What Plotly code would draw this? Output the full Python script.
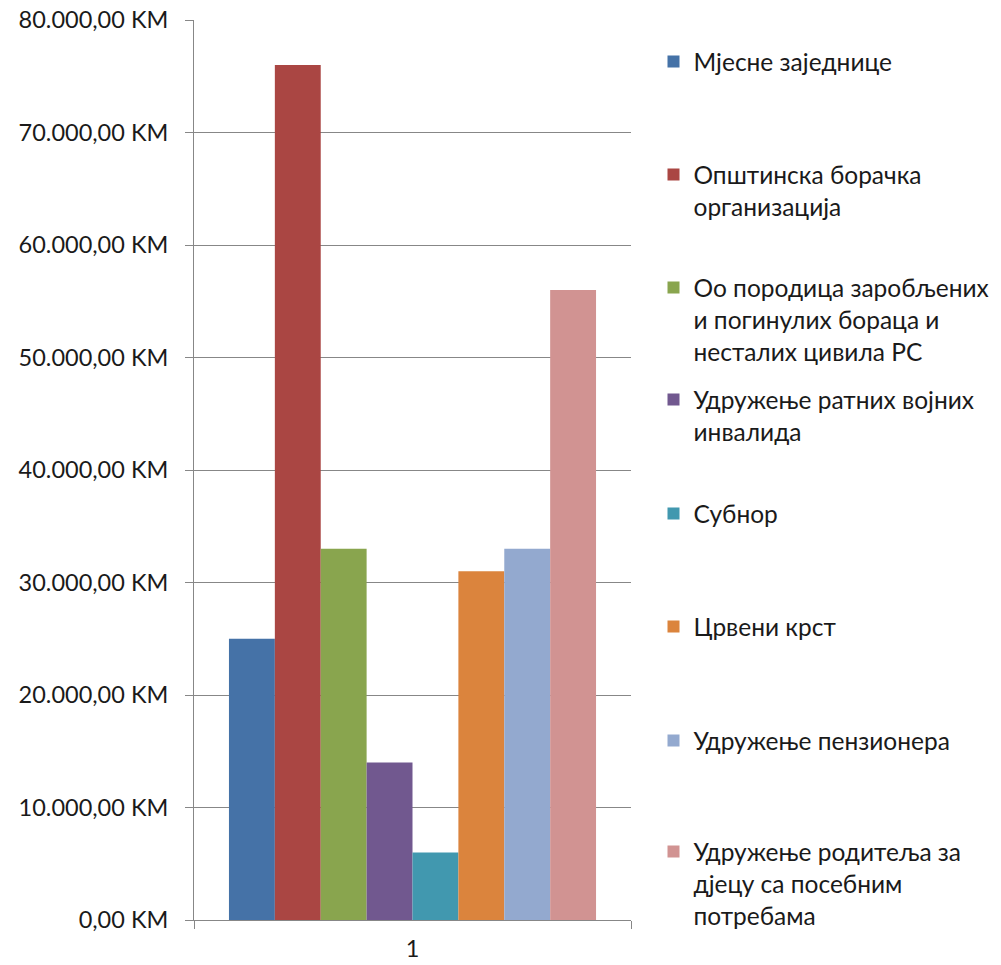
import plotly.graph_objects as go

categories = ["1"]
series_names = [
    "Мјесне заједнице",
    "Општинска борачка<br>организација",
    "Оо породица заробљених<br>и погинулих бораца и<br>несталих цивила РС",
    "Удружење ратних војних<br>инвалида",
    "Субнор",
    "Црвени крст",
    "Удружење пензионера",
    "Удружење родитеља за<br>дјецу са посебним<br>потребама",
]
values = [25000, 76000, 33000, 14000, 6000, 31000, 33000, 56000]
colors = ["#4572A7", "#AA4643", "#89A54E", "#71588F",
          "#4198AF", "#DB843D", "#93A9CF", "#D19392"]

FONT = "Lato"
TICK_FS = 23.5
LEG_FS = 24.5
W, H = 1001, 965
L, T = 194, 20
plot_w, plot_h = 437, 900
R = W - L - plot_w
B = H - T - plot_h

# legend entry first-line centres (pixels)
legend_centres = [62, 175, 288, 400, 514, 627, 741, 852]
legend_swatch_x = 673.5

fig = go.Figure()
layout_legends = {}
for i, (name, v, c) in enumerate(zip(series_names, values, colors)):
    key = "legend" if i == 0 else f"legend{i+1}"
    fig.add_trace(go.Bar(
        x=categories, y=[v], name=name,
        marker=dict(color=c, line=dict(width=0)),
        legend=key,
    ))
    top_px = legend_centres[i] - 23
    left_px = legend_swatch_x - 20
    layout_legends[key] = dict(
        x=(left_px - L) / plot_w, xanchor="left",
        y=(H - B - top_px) / plot_h, yanchor="top",
        valign="top",
        font=dict(family=FONT, size=LEG_FS, color="#1a1a1a"),
        bgcolor="rgba(0,0,0,0)",
        borderwidth=0,
    )

fig.update_layout(
    width=W, height=H,
    margin=dict(l=L, r=R, t=T, b=B, autoexpand=False),
    paper_bgcolor="white", plot_bgcolor="white",
    barmode="group", bargap=0.16, bargroupgap=0,
    separators=",.",
    showlegend=True,
    font=dict(family=FONT, size=TICK_FS, color="#1a1a1a"),
    **layout_legends,
)
fig.update_yaxes(
    range=[0, 80000], dtick=10000, tick0=0,
    tickformat=",.2f", ticksuffix=" KM",
    showgrid=True, gridcolor="#878787", gridwidth=1,
    showline=True, linecolor="#878787", linewidth=1,
    ticks="outside", ticklen=8, tickcolor="#878787",
    ticklabelstandoff=12,
    ticklabeloverflow="allow",
    zeroline=False,
    tickfont=dict(family=FONT, size=TICK_FS, color="#1a1a1a"),
)
fig.update_xaxes(
    type="category",
    showline=True, linecolor="#878787", linewidth=1,
    ticks="outside", ticklen=8, tickcolor="#878787",
    tickson="boundaries",
    ticklabelstandoff=8,
    ticklabeloverflow="allow",
    showgrid=False,
    tickfont=dict(family=FONT, size=TICK_FS, color="#1a1a1a"),
)

fig.write_html(
    "out.html",
    config={"displayModeBar": False},
    post_script="document.body.style.margin='0';document.body.style.overflow='hidden';",
)
